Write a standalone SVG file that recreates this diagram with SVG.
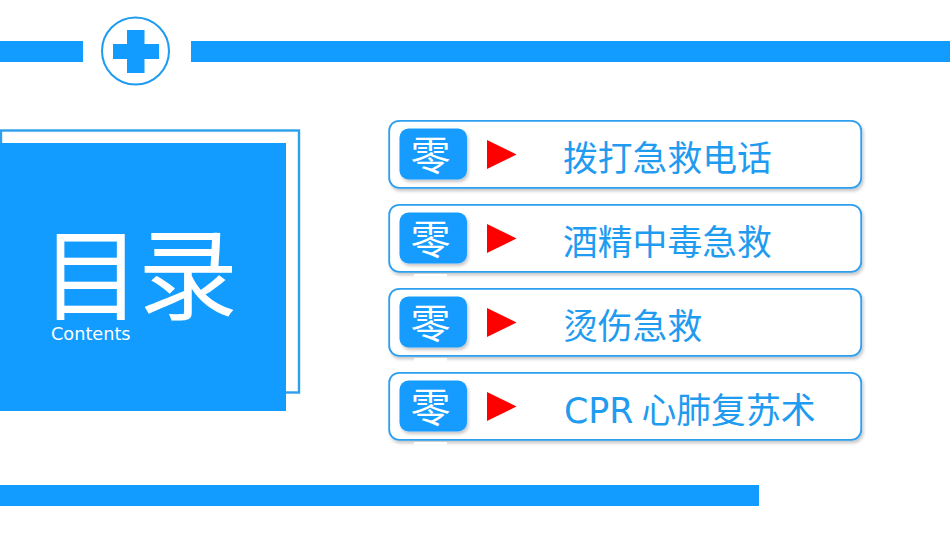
<svg xmlns="http://www.w3.org/2000/svg" width="950" height="535" viewBox="0 0 950 535">
<defs>
<filter id="s" x="-5%" y="-10%" width="110%" height="125%"><feDropShadow dx="1.5" dy="2.5" stdDeviation="1.5" flood-color="#000" flood-opacity="0.22"/></filter>
<g id="item">
<rect x="389.2" y="0.8" width="472" height="67" rx="10" fill="#fff" stroke="#2e9fee" stroke-width="1.8" filter="url(#s)"/>
<rect x="399.5" y="8.5" width="67.5" height="51" rx="9" fill="#129cff" filter="url(#s)"/>
<text class="zero" x="430.500" y="50">零</text>
<polygon points="487,20 516.500,34.500 487,49" fill="#ff0000"/>
</g>
</defs>
<style>
text{font-family:"Noto Sans CJK SC","DejaVu Sans",sans-serif}
.zero{font-size:40px;fill:#fff;text-anchor:middle}
.lab{font-family:"DejaVu Sans","Noto Sans CJK SC",sans-serif;font-size:34.800px;fill:#1f9bf0}
.b{fill:#129cff}
</style>
<rect width="950" height="535" fill="#fff"/>
<g id="header">
<rect class="b" x="0" y="41" width="83" height="21"/>
<rect class="b" x="191" y="41" width="759" height="21"/>
<circle cx="135.500" cy="51" r="33.500" fill="#fff" stroke="#1f9bf0" stroke-width="2"/>
<path class="b" d="M127 30H144.500V44H159V59H144.500V73H127V59H113V44H127Z"/>
</g>
<rect id="footer" class="b" x="0" y="485" width="759" height="21"/>
<g id="title">
<rect x="1" y="130.500" width="298" height="262" fill="#fff" stroke="#2e9fee" stroke-width="2.400"/>
<rect class="b" x="0" y="143" width="286" height="268"/>
<text x="41 138" y="312" font-size="100" fill="#fff">目录</text>
<text x="51" y="340" font-size="17.700" fill="#fff" style="font-family:'DejaVu Sans',sans-serif">Contents</text>
</g>
<g id="item1" transform="translate(0,120)"><use href="#item"/><text class="lab" x="563" y="170.500" transform="translate(0,-120)">拨打急救电话</text></g>
<g id="item2" transform="translate(0,204)"><use href="#item"/><text class="lab" x="563" y="254.500" transform="translate(0,-204)">酒精中毒急救</text></g>
<g id="item3" transform="translate(0,288)"><use href="#item"/><text class="lab" x="563" y="338.500" transform="translate(0,-288)">烫伤急救</text></g>
<g id="item4" transform="translate(0,372)"><use href="#item"/><text class="lab" x="564" y="422.500" word-spacing="-3" transform="translate(0,-372)">CPR 心肺复苏术</text></g>
<g id="marks" fill="#fff">
<rect x="414" y="274" width="33" height="5"/>
<rect x="414" y="358" width="33" height="4"/>
<rect x="414" y="442" width="33" height="7"/>
</g>
</svg>
